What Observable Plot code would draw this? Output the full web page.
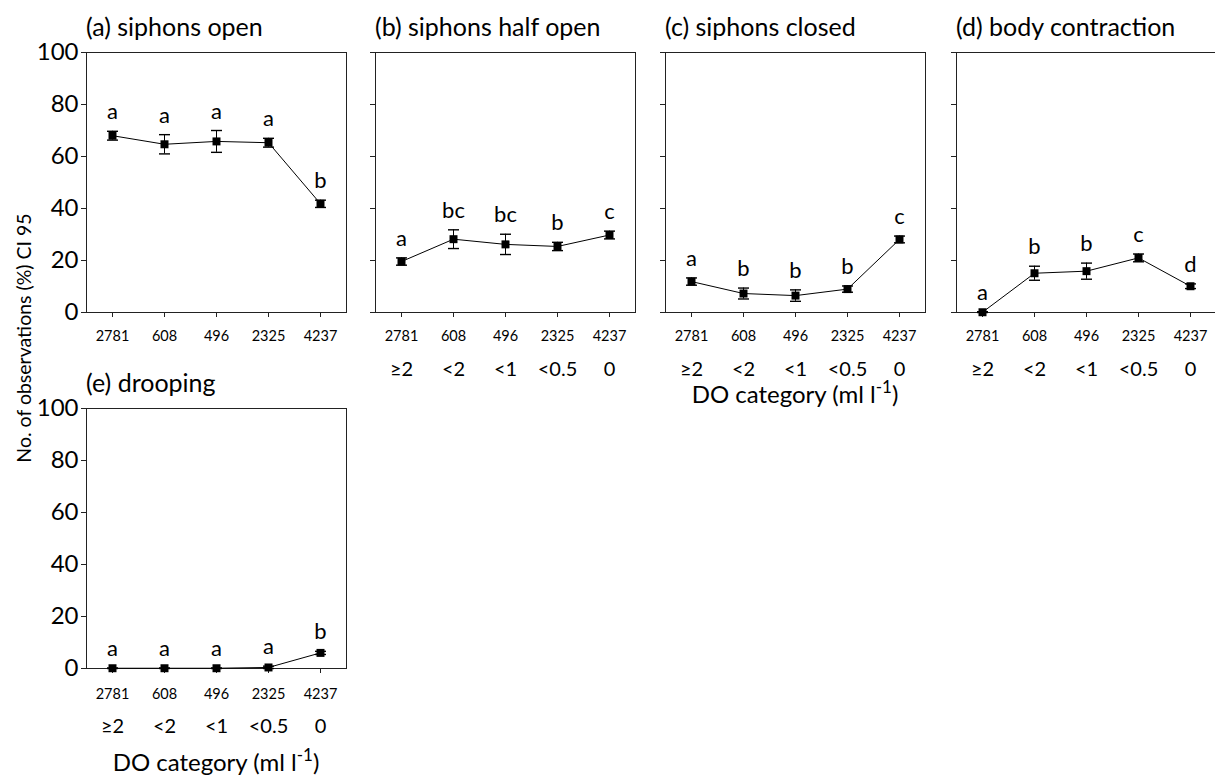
<!DOCTYPE html>
<html>
<head>
<meta charset="utf-8">
<script src="https://cdn.jsdelivr.net/npm/d3@7"></script>
<script src="https://cdn.jsdelivr.net/npm/@observablehq/plot@0.6"></script>
<style>
  html, body { margin: 0; padding: 0; background: #fff; overflow: hidden; }
  #root { position: relative; width: 1215px; height: 776px; overflow: hidden; font-family: Lato, "Open Sans", sans-serif; color: #000; }
  .panel { position: absolute; }
  .ptitle { position: absolute; font-size: 25px; line-height: 1; white-space: nowrap; }
  .xtitle { position: absolute; font-size: 24px; line-height: 1; white-space: nowrap; transform: translateX(-50%); }
  .xtitle sup { font-size: 17px; vertical-align: 10px; line-height: 0; }
  .ytitle { position: absolute; font-size: 19.5px; line-height: 1; white-space: nowrap; transform: translate(-50%, -50%) rotate(-90deg); }
</style>
</head>
<body>
<div id="root"></div>
<script>
// ---- data ----
const nLabels = ["2781", "608", "496", "2325", "4237"];
const doCategories = ["≥2", "<2", "<1", "<0.5", "0"];
const yTicks = [0, 20, 40, 60, 80, 100];

const titleA = "(a) siphons open";
const meanA = [68.0, 64.7, 65.8, 65.3, 41.8];
const ciA   = [1.7, 3.7, 4.2, 1.7, 1.4];
const letA  = ["a", "a", "a", "a", "b"];

const titleB = "(b) siphons half open";
const meanB = [19.6, 28.2, 26.2, 25.4, 29.8];
const ciB   = [1.4, 3.6, 3.9, 1.6, 1.5];
const letB  = ["a", "bc", "bc", "b", "c"];

const titleC = "(c) siphons closed";
const meanC = [11.9, 7.3, 6.5, 9.0, 28.1];
const ciC   = [1.4, 2.1, 2.2, 1.2, 1.3];
const letC  = ["a", "b", "b", "b", "c"];

const titleD = "(d) body contraction";
const meanD = [0.1, 15.1, 15.9, 21.0, 10.1];
const ciD   = [0.2, 2.7, 3.1, 1.5, 0.9];
const letD  = ["a", "b", "b", "c", "d"];

const titleE = "(e) drooping";
const meanE = [0.1, 0.1, 0.1, 0.4, 6.0];
const ciE   = [0.1, 0.1, 0.1, 0.5, 0.6];
const letE  = ["a", "a", "a", "a", "b"];

const yTitle = "No. of observations (%) CI 95";
const xTitleMain = "DO category (ml l";
const xTitleSup = "-1";

// ---- layout ----
const FW = 260, FH = 260;
const ML = 56, MR = 6, MT = 6, MB = 76;

const panels = [
  {title: titleA, mean: meanA, ci: ciA, let: letA, fx: 86,  fy: 52,  yLabels: true,  cats: false, nPad: 13, catDy: 63},
  {title: titleB, mean: meanB, ci: ciB, let: letB, fx: 375, fy: 52,  yLabels: false, cats: true,  nPad: 13, catDy: 63},
  {title: titleC, mean: meanC, ci: ciC, let: letC, fx: 665, fy: 52,  yLabels: false, cats: true,  nPad: 13, catDy: 63, xtitleDy: 83},
  {title: titleD, mean: meanD, ci: ciD, let: letD, fx: 956, fy: 52,  yLabels: false, cats: true,  nPad: 13, catDy: 63},
  {title: titleE, mean: meanE, ci: ciE, let: letE, fx: 86,  fy: 408, yLabels: true,  cats: true,  nPad: 15, catDy: 64, xtitleDy: 95}
];

const root = document.getElementById("root");

const capSymbol = {
  draw(context, size) {
    const h = Math.sqrt(size / Math.PI);
    context.moveTo(-h, 0);
    context.lineTo(h, 0);
  }
};

for (const p of panels) {
  const data = nLabels.map((n, i) => ({
    i, n, cat: doCategories[i], mean: p.mean[i],
    lo: Math.max(0, p.mean[i] - p.ci[i]), hi: p.mean[i] + p.ci[i], letter: p.let[i]
  }));
  const marks = [
    Plot.frame({stroke: "#222", strokeWidth: 1}),
    Plot.axisY({ticks: yTicks, tickSize: 5, tickPadding: 3, fontSize: 24,
      tickFormat: p.yLabels ? (d => String(d)) : (() => ""), label: null, stroke: "#222"}),
    Plot.axisX({ticks: [0, 1, 2, 3, 4], tickSize: 5, tickPadding: p.nPad, fontSize: 14.5,
      tickFormat: i => nLabels[i], label: null, stroke: "#222"}),
    Plot.line(data, {x: "i", y: "mean", stroke: "#000", strokeWidth: 1}),
    Plot.ruleX(data, {x: "i", y1: "lo", y2: "hi", stroke: "#000", strokeWidth: 1}),
    Plot.dot(data, {x: "i", y: "lo", symbol: capSymbol, r: 5.5, stroke: "#000", strokeWidth: 1.4, fill: "none"}),
    Plot.dot(data, {x: "i", y: "hi", symbol: capSymbol, r: 5.5, stroke: "#000", strokeWidth: 1.4, fill: "none"}),
    Plot.dot(data, {x: "i", y: "mean", symbol: "square", r: 4.5, fill: "#000", stroke: "none"}),
    Plot.text(data, {x: "i", y: "hi", text: "letter", dy: -19, fontSize: 22, fill: "#000"})
  ];
  if (p.cats) {
    marks.push(Plot.text(data, {x: "i", text: "cat", frameAnchor: "bottom", dy: p.catDy, fontSize: 20, fill: "#000"}));
  }
  const chart = Plot.plot({
    width: FW + ML + MR,
    height: FH + MT + MB,
    marginLeft: ML, marginRight: MR, marginTop: MT, marginBottom: MB,
    style: {fontFamily: "Lato, 'Open Sans', sans-serif", color: "#000", background: "transparent", overflow: "visible"},
    x: {type: "linear", domain: [-0.5, 4.5]},
    y: {domain: [0, 100]},
    marks
  });
  chart.classList.add("panel");
  chart.style.left = (p.fx - ML) + "px";
  chart.style.top = (p.fy - MT) + "px";
  root.appendChild(chart);

  const t = document.createElement("div");
  t.className = "ptitle";
  t.textContent = p.title;
  t.style.left = p.fx + "px";
  t.style.top = (p.fy - 38) + "px";
  root.appendChild(t);

  if (p.xtitleDy) {
    const xt = document.createElement("div");
    xt.className = "xtitle";
    xt.appendChild(document.createTextNode(xTitleMain));
    const s = document.createElement("sup");
    s.textContent = xTitleSup;
    xt.appendChild(s);
    xt.appendChild(document.createTextNode(")"));
    xt.style.left = (p.fx + FW / 2) + "px";
    xt.style.top = (p.fy + FH + p.xtitleDy - 13) + "px";
    root.appendChild(xt);
  }
}

const yt = document.createElement("div");
yt.className = "ytitle";
yt.textContent = yTitle;
yt.style.left = "24px";
yt.style.top = "338px";
root.appendChild(yt);
</script>
</body>
</html>
